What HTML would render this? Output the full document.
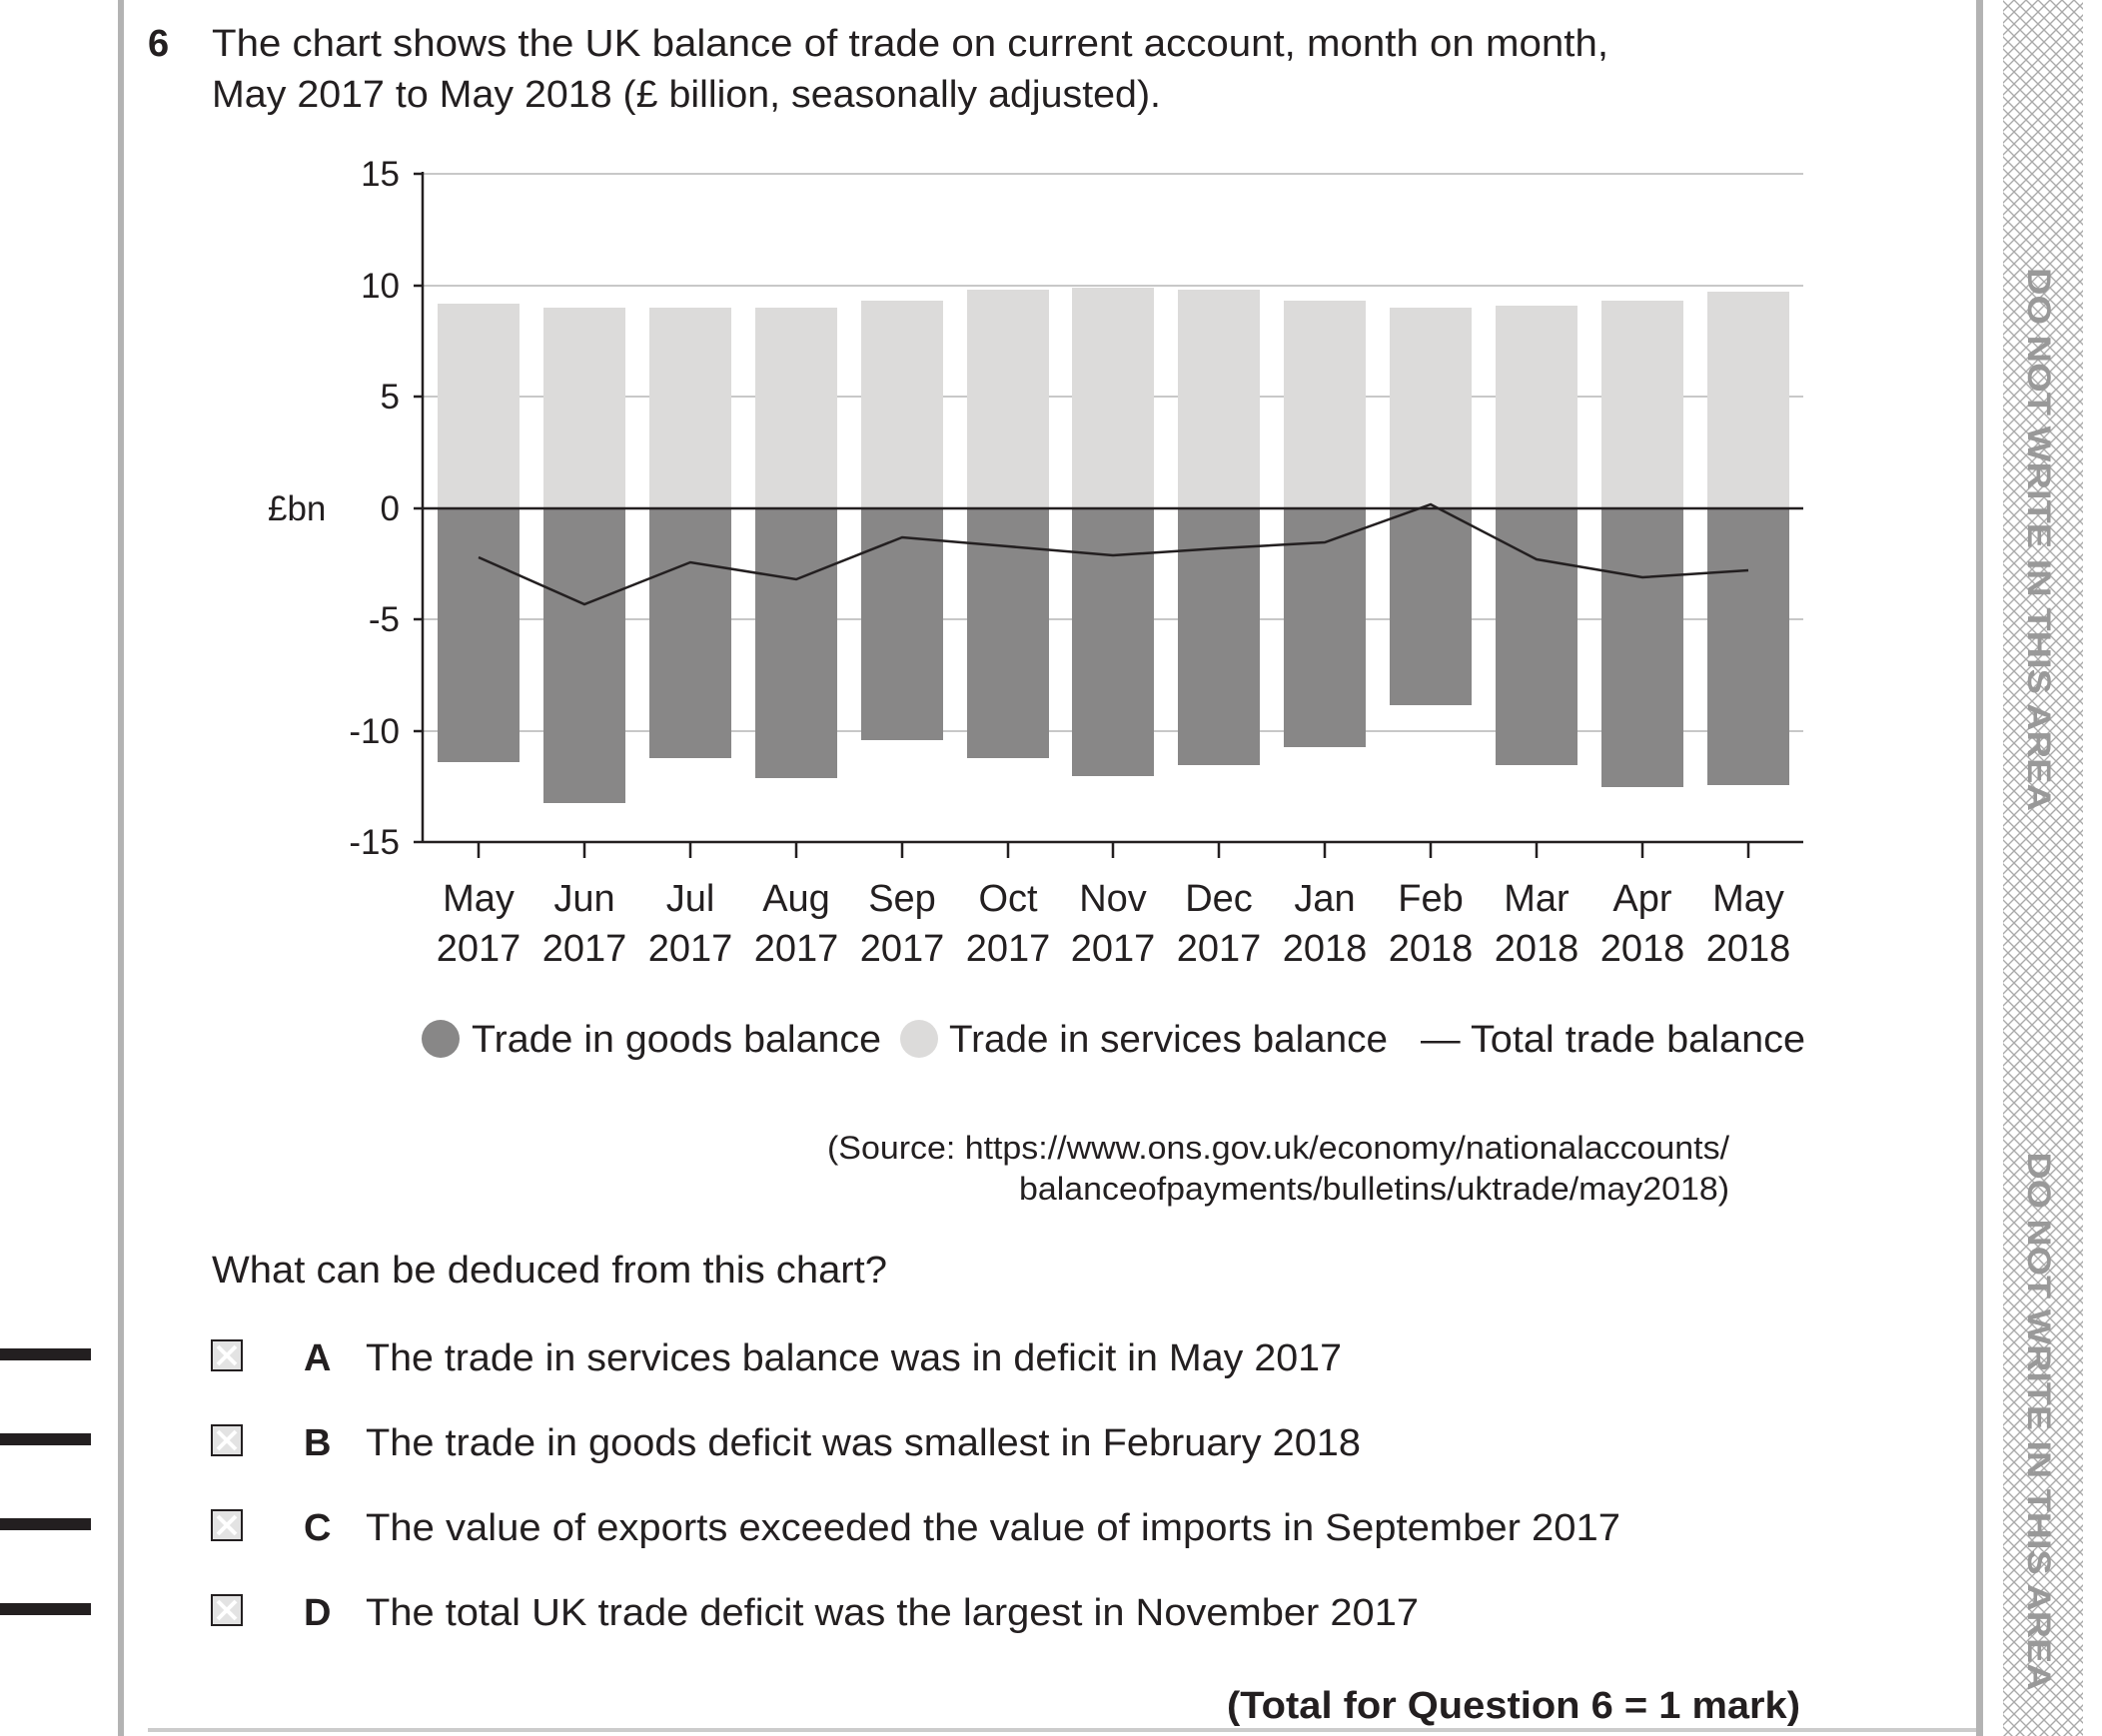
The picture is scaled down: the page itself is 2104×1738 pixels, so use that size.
<!DOCTYPE html>
<html><head><meta charset="utf-8"><style>html,body{margin:0;padding:0;background:#fff}svg{display:block}</style></head>
<body>
<svg width="2104" height="1738" viewBox="0 0 2104 1738" xmlns="http://www.w3.org/2000/svg" font-family="Liberation Sans, sans-serif" fill="#231f20">
<defs>
<pattern id="h" width="12" height="12" patternUnits="userSpaceOnUse">
<path d="M0 0L12 12M12 0L0 12" stroke="#aaa" stroke-width="1.4"/>
</pattern>
</defs>
<!-- margins -->
<rect x="118" y="0" width="6" height="1738" fill="#b3b3b3"/>
<rect x="1978" y="0" width="7" height="1738" fill="#b3b3b3"/>
<rect x="2005" y="0" width="80" height="1738" fill="url(#h)"/>
<g fill="#999" font-weight="bold" font-size="32">
<text transform="translate(2030,540) rotate(90)" text-anchor="middle" textLength="544" lengthAdjust="spacingAndGlyphs">DO NOT WRITE IN THIS AREA</text>
<text transform="translate(2030,1423) rotate(90)" text-anchor="middle" textLength="539" lengthAdjust="spacingAndGlyphs">DO NOT WRITE IN THIS AREA</text>
</g>
<g fill="#231f20">
<rect x="0" y="1350" width="91" height="12"/>
<rect x="0" y="1435" width="91" height="12"/>
<rect x="0" y="1520" width="91" height="12"/>
<rect x="0" y="1605" width="91" height="12"/>
</g>
<rect x="148" y="1730" width="1830" height="4" fill="#ccc"/>
<!-- title -->
<text x="148" y="56" font-size="38" font-weight="bold">6</text>
<text x="212" y="56" font-size="38" textLength="1398" lengthAdjust="spacingAndGlyphs">The chart shows the UK balance of trade on current account, month on month,</text>
<text x="212" y="107" font-size="38" textLength="950" lengthAdjust="spacingAndGlyphs">May 2017 to May 2018 (£ billion, seasonally adjusted).</text>
<!-- gridlines -->
<g stroke="#c8c8c8" stroke-width="2">
<line x1="423" y1="174" x2="1805" y2="174"/>
<line x1="423" y1="286" x2="1805" y2="286"/>
<line x1="423" y1="397" x2="1805" y2="397"/>
<line x1="423" y1="620" x2="1805" y2="620"/>
<line x1="423" y1="732" x2="1805" y2="732"/>
</g>
<!-- bars -->
<g fill="#dcdbda">
<rect x="438" y="304" width="82" height="205"/>
<rect x="544" y="308" width="82" height="201"/>
<rect x="650" y="308" width="82" height="201"/>
<rect x="756" y="308" width="82" height="201"/>
<rect x="862" y="301" width="82" height="208"/>
<rect x="968" y="290" width="82" height="219"/>
<rect x="1073" y="288" width="82" height="221"/>
<rect x="1179" y="290" width="82" height="219"/>
<rect x="1285" y="301" width="82" height="208"/>
<rect x="1391" y="308" width="82" height="201"/>
<rect x="1497" y="306" width="82" height="203"/>
<rect x="1603" y="301" width="82" height="208"/>
<rect x="1709" y="292" width="82" height="217"/>
</g>
<g fill="#888787">
<rect x="438" y="509" width="82" height="254"/>
<rect x="544" y="509" width="82" height="295"/>
<rect x="650" y="509" width="82" height="250"/>
<rect x="756" y="509" width="82" height="270"/>
<rect x="862" y="509" width="82" height="232"/>
<rect x="968" y="509" width="82" height="250"/>
<rect x="1073" y="509" width="82" height="268"/>
<rect x="1179" y="509" width="82" height="257"/>
<rect x="1285" y="509" width="82" height="239"/>
<rect x="1391" y="509" width="82" height="197"/>
<rect x="1497" y="509" width="82" height="257"/>
<rect x="1603" y="509" width="82" height="279"/>
<rect x="1709" y="509" width="82" height="277"/>
</g>
<line x1="423" y1="509" x2="1805" y2="509" stroke="#231f20" stroke-width="2.5"/>
<polyline fill="none" stroke="#231f20" stroke-width="2.5" points="479,558 585,605 691,563 797,580 903,538 1009,547 1114,556 1220,549 1326,543 1432,505 1538,560 1644,578 1750,571"/>
<!-- axes -->
<g stroke="#231f20" stroke-width="2.5">
<line x1="423" y1="172" x2="423" y2="843"/>
<line x1="423" y1="843" x2="1805" y2="843"/>
<line x1="414" y1="174" x2="423" y2="174"/><line x1="414" y1="286" x2="423" y2="286"/><line x1="414" y1="397" x2="423" y2="397"/>
<line x1="414" y1="509" x2="423" y2="509"/><line x1="414" y1="620" x2="423" y2="620"/><line x1="414" y1="732" x2="423" y2="732"/><line x1="414" y1="843" x2="423" y2="843"/>
<path d="M479 843v16M585 843v16M691 843v16M797 843v16M903 843v16M1009 843v16M1114 843v16M1220 843v16M1326 843v16M1432 843v16M1538 843v16M1644 843v16M1750 843v16"/>
</g>
<g font-size="35" text-anchor="end">
<text x="400" y="186">15</text><text x="400" y="298">10</text><text x="400" y="409">5</text>
<text x="400" y="521">0</text><text x="400" y="632">-5</text><text x="400" y="744">-10</text><text x="400" y="855">-15</text>
</g>
<text x="268" y="521" font-size="35">£bn</text>
<g font-size="38" text-anchor="middle">
<text x="479" y="912">May</text><text x="585" y="912">Jun</text><text x="691" y="912">Jul</text><text x="797" y="912">Aug</text><text x="903" y="912">Sep</text><text x="1009" y="912">Oct</text><text x="1114" y="912">Nov</text><text x="1220" y="912">Dec</text><text x="1326" y="912">Jan</text><text x="1432" y="912">Feb</text><text x="1538" y="912">Mar</text><text x="1644" y="912">Apr</text><text x="1750" y="912">May</text>
<text x="479" y="962">2017</text><text x="585" y="962">2017</text><text x="691" y="962">2017</text><text x="797" y="962">2017</text><text x="903" y="962">2017</text><text x="1009" y="962">2017</text><text x="1114" y="962">2017</text><text x="1220" y="962">2017</text><text x="1326" y="962">2018</text><text x="1432" y="962">2018</text><text x="1538" y="962">2018</text><text x="1644" y="962">2018</text><text x="1750" y="962">2018</text>
</g>
<!-- legend -->
<circle cx="441" cy="1040" r="19" fill="#888787"/>
<text x="472" y="1053" font-size="38" textLength="410" lengthAdjust="spacingAndGlyphs">Trade in goods balance</text>
<circle cx="920" cy="1040" r="19" fill="#dcdbda"/>
<text x="950" y="1053" font-size="38" textLength="439" lengthAdjust="spacingAndGlyphs">Trade in services balance</text>
<text x="1422" y="1053" font-size="38" textLength="385" lengthAdjust="spacingAndGlyphs">— Total trade balance</text>
<!-- source -->
<text x="1731" y="1160" font-size="32" text-anchor="end" textLength="903" lengthAdjust="spacingAndGlyphs">(Source: https://www.ons.gov.uk/economy/nationalaccounts/</text>
<text x="1731" y="1201" font-size="32" text-anchor="end" textLength="711" lengthAdjust="spacingAndGlyphs">balanceofpayments/bulletins/uktrade/may2018)</text>
<!-- question -->
<text x="212" y="1284" font-size="38" textLength="676" lengthAdjust="spacingAndGlyphs">What can be deduced from this chart?</text>
<g>
<g transform="translate(211,1341)"><rect x="1" y="1" width="30" height="30" fill="#e3e3e3" stroke="#231f20" stroke-width="2"/><path d="M7 7L25 25M25 7L7 25" stroke="#fff" stroke-width="4"/></g>
<g transform="translate(211,1426)"><rect x="1" y="1" width="30" height="30" fill="#e3e3e3" stroke="#231f20" stroke-width="2"/><path d="M7 7L25 25M25 7L7 25" stroke="#fff" stroke-width="4"/></g>
<g transform="translate(211,1511)"><rect x="1" y="1" width="30" height="30" fill="#e3e3e3" stroke="#231f20" stroke-width="2"/><path d="M7 7L25 25M25 7L7 25" stroke="#fff" stroke-width="4"/></g>
<g transform="translate(211,1596)"><rect x="1" y="1" width="30" height="30" fill="#e3e3e3" stroke="#231f20" stroke-width="2"/><path d="M7 7L25 25M25 7L7 25" stroke="#fff" stroke-width="4"/></g>
</g>
<g font-size="38">
<text x="304" y="1372" font-weight="bold">A</text>
<text x="366" y="1372" textLength="977" lengthAdjust="spacingAndGlyphs">The trade in services balance was in deficit in May 2017</text>
<text x="304" y="1457" font-weight="bold">B</text>
<text x="366" y="1457" textLength="996" lengthAdjust="spacingAndGlyphs">The trade in goods deficit was smallest in February 2018</text>
<text x="304" y="1542" font-weight="bold">C</text>
<text x="366" y="1542" textLength="1256" lengthAdjust="spacingAndGlyphs">The value of exports exceeded the value of imports in September 2017</text>
<text x="304" y="1627" font-weight="bold">D</text>
<text x="366" y="1627" textLength="1054" lengthAdjust="spacingAndGlyphs">The total UK trade deficit was the largest in November 2017</text>
<text x="1802" y="1720" font-weight="bold" text-anchor="end" textLength="574" lengthAdjust="spacingAndGlyphs">(Total for Question 6 = 1 mark)</text>
</g>
</svg>
</body></html>
